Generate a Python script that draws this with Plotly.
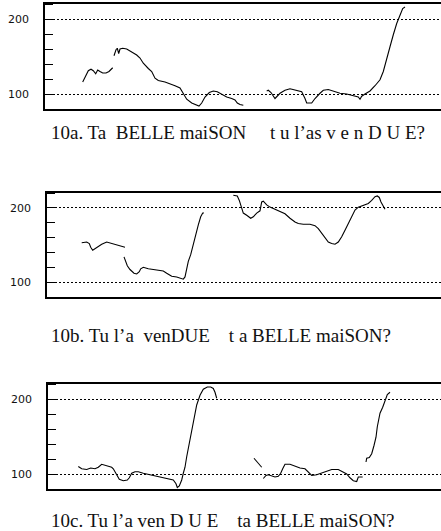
import plotly.graph_objects as go

# F0 contours (Hz) against time (arbitrary frame units), one list per voiced stretch.

# 10a. Ta BELLE maiSON  tu l'as venDUE?
a_t1 = [37.7, 41, 43.3, 46, 48.3, 50.7, 52.7, 55, 57.7, 61, 64, 67.7]
a_f1 = [116, 124, 131, 133, 131, 127, 132, 130, 128, 128, 130, 135]
a_t2 = [69, 71, 72.3, 73.7, 75, 77.7, 81.7, 86.7, 91.7, 95, 98.3, 103.3, 106.7, 110, 113.3,
        120, 125, 130, 135, 138.3, 141.7, 146.7, 150, 154, 156.7, 160, 164.3, 168.3, 172.3,
        176.7, 181.7, 186.7, 190, 192.3, 195, 198.3]
a_f2 = [151, 159, 161, 154, 160, 161, 160, 156, 152, 148, 141, 134, 130, 121, 118,
        116, 114, 111, 108, 101, 93, 88, 86, 84, 88, 96, 102, 104, 103,
        100, 96, 94, 92, 88, 86, 85]
a_t3 = [221.7, 223.3, 226, 230, 235, 240, 245, 251.7, 256.7, 260, 261.7, 266.7, 270, 275,
        278.3, 283.3, 288.3, 295, 301.7, 308.3, 313.3, 315, 316.7, 320, 325, 330, 335, 338.3,
        341.7, 345, 348.3, 351.7, 355, 357.7, 360]
a_f3 = [104, 105, 102, 94, 101, 105, 107, 105, 103, 94, 88, 88, 94, 101,
        105, 106, 104, 101, 100, 98, 96, 93, 97, 100, 104, 111, 119, 130,
        145, 163, 179, 194, 205, 214, 216]

# 10b. Tu l'a venDUE  ta BELLE maiSON?
b_t1 = [34.7, 39.7, 42.3, 43.7, 45.7, 49.7, 54.7, 59.7, 64.7, 69.7, 73.7, 78]
b_f1 = [153, 154, 152, 147, 143, 147, 151, 154, 152, 150, 148, 147]
b_t2 = [77, 79, 80.3, 83, 87, 89.7, 92.3, 93.7, 96.3, 101.3, 106.3, 111.3, 116.3, 119.7,
        124.7, 129.7, 134.7, 136.3, 138, 139.7, 141.3, 143.7, 146.3, 149, 151.3, 153.7,
        155.7, 157]
b_f2 = [134, 128, 122, 117, 112, 111, 114, 118, 120, 118, 117, 117, 115, 112,
        108, 107, 105, 104, 107, 117, 128, 137, 152, 166, 177, 188,
        193, 193]
b_t3 = [186.3, 190.3, 192.3, 194.7, 196.3, 199.7, 203.7, 206.3, 209.7, 213, 214.7, 216.3,
        218, 219.7, 223, 226.3, 229.7, 233, 238, 243, 248, 251.3, 256.3, 263, 268, 271.3,
        274.7, 278, 281.3, 284.7, 288, 291.3, 294.7, 298, 301.3, 304.7, 308, 311.3, 316.3,
        321.3, 324.7, 328, 330.3, 332.3, 334, 338]
b_f3 = [217, 216, 210, 201, 193, 190, 186, 188, 193, 196, 208, 209,
        206, 204, 201, 199, 198, 196, 192, 186, 181, 179, 178, 178, 176, 172,
        166, 159, 154, 152, 151, 154, 161, 170, 179, 188, 197, 201, 204,
        206, 210, 215, 216, 214, 208, 198]

# 10c. Tu l'a venDUE  ta BELLE maiSON?
c_t1 = [30.3, 33.7, 38.7, 42.7, 47, 50.3, 53.7, 57, 60.3, 63.7, 65.3, 67, 68.7, 71.3, 75.3,
        79.3, 81.3, 83.7, 87, 90.3, 95.3, 102, 108.7, 115.3, 122, 125.3, 128, 129.3, 131.3,
        133.7, 135.3, 137, 138.7, 141.3, 143.7, 146, 148.7, 152, 155.3, 159.3, 162.7, 165.3,
        167, 168.7]
c_f1 = [110, 107, 106, 108, 107, 109, 113, 112, 110, 109, 107, 103, 98, 93, 91,
        92, 95, 101, 103, 103, 101, 99, 97, 96, 94, 92, 87, 82, 84,
        92, 101, 109, 123, 141, 158, 176, 192, 205, 213, 216, 216, 214,
        209, 201]
c_t2 = [206, 208.7, 211.3, 213.7]
c_f2 = [121, 117, 114, 109]
c_t3 = [215.3, 218, 220.3, 223.7, 227, 230.3, 232.7, 234.7, 237, 242, 247, 252, 257, 260.3,
        263.7, 268.7, 273.7, 278.7, 283.7, 290.3, 295.3, 298.7, 302, 305.3, 308.7, 310.3,
        312, 314.7]
c_f3 = [94, 98, 99, 97, 96, 97, 101, 107, 113, 113, 110, 108, 107, 103,
        98, 99, 101, 104, 106, 106, 103, 100, 95, 91, 90, 96,
        96, 96]
c_t4 = [318, 318.7, 321.3, 323.7, 326, 328, 329.3, 332, 334.7, 337, 339.3, 342]
c_f4 = [116, 121, 122, 127, 138, 149, 163, 181, 189, 198, 206, 209]

NB = "\u00a0"
captions = [
    "10a. Ta" + NB + " BELLE maiSON" + NB * 4 + " t u l\u2019as v e n D U E?",
    "10b. Tu l\u2019a" + NB + " venDUE" + NB * 3 + " t a BELLE maiSON?",
    "10c. Tu l\u2019a ven D U E" + NB * 3 + " ta BELLE maiSON?",
]

W, H = 441, 531
panels = [
    # (segments, box left px, box top px, box bottom px, caption centre px)
    ([(a_t1, a_f1), (a_t2, a_f2), (a_t3, a_f3)], 45, 4, 109, 133),
    ([(b_t1, b_f1), (b_t2, b_f2), (b_t3, b_f3)], 47, 193, 297, 335),
    ([(c_t1, c_f1), (c_t2, c_f2), (c_t3, c_f3), (c_t4, c_f4)], 48, 384, 489, 520),
]

fig = go.Figure()
layout = dict(
    width=W, height=H, margin=dict(l=0, r=0, t=0, b=0),
    paper_bgcolor="white", plot_bgcolor="white", showlegend=False,
    annotations=[],
)

for i, (segs, left, top, bottom, cap_y) in enumerate(panels, start=1):
    xs, ys = [], []
    for t, f in segs:
        xs += list(t) + [None]
        ys += list(f) + [None]
    sfx = "" if i == 1 else str(i)
    fig.add_trace(go.Scatter(
        x=xs, y=ys, mode="lines", xaxis="x" + sfx, yaxis="y" + sfx,
        line=dict(color="black", width=1.1), connectgaps=False,
        hoverinfo="skip",
    ))
    layout["xaxis" + sfx] = dict(
        domain=[left / W, 1.0], range=[0, W - left], anchor="y" + sfx,
        showline=True, mirror=True, linecolor="black", linewidth=1.5,
        showticklabels=False, ticks="", showgrid=False, zeroline=False,
        fixedrange=True,
    )
    layout["yaxis" + sfx] = dict(
        domain=[1 - bottom / H, 1 - top / H], range=[80, 220], anchor="x" + sfx,
        showline=True, mirror=False, linecolor="black", linewidth=1.5,
        tickvals=[100, 200], ticktext=["100", "200"], ticks="",
        ticklabelstandoff=12,
        tickfont=dict(family="DejaVu Sans", size=11, color="#111"),
        showgrid=True, gridcolor="black", gridwidth=1, griddash="2px,2px",
        minor=dict(ticks="inside", ticklen=8, tickwidth=1, tickcolor="black",
                   dtick=20, tick0=0, showgrid=False),
        zeroline=False, fixedrange=True,
    )
    layout["annotations"].append(dict(
        text=captions[i - 1], xref="paper", yref="paper",
        x=49 / W, y=1 - cap_y / H, xanchor="left", yanchor="middle",
        showarrow=False,
        font=dict(family="Liberation Serif", size=19, color="#111"),
    ))

fig.update_layout(**layout)
fig.write_html("out.html")
